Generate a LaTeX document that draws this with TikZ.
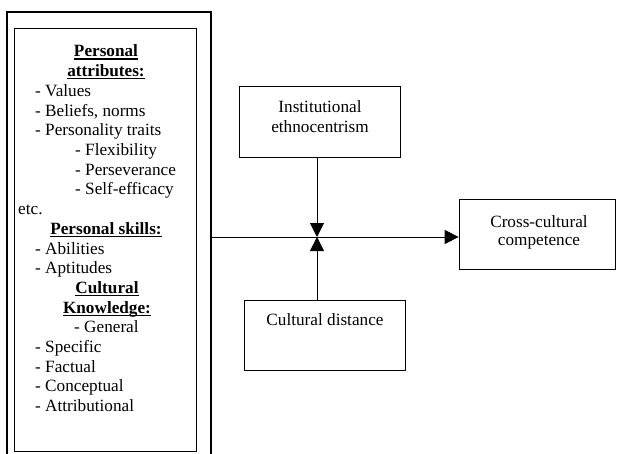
\documentclass[tikz,border=0pt]{standalone}
\usepackage{fontspec}
\setmainfont{Liberation Serif}
\usetikzlibrary{arrows.meta}
\newcommand\hdrul[1]{\setbox0\hbox{\bfseries #1}\leavevmode\rlap{\rule[-2.6pt]{\wd0}{1.2pt}}\box0}
\begin{document}
\begin{tikzpicture}[x=1pt,y=-1pt,
  txt/.style={inner sep=0pt,font=\fontsize{17.2}{19.7}\selectfont},
  boxa/.style={draw,line width=0.8pt,inner sep=0pt},
  arr/.style={line width=0.8pt,-{Triangle[length=14pt,width=14pt]}}]
\useasboundingbox (0,0) rectangle (617,454);
\node[boxa,line width=1.8pt,minimum width=204pt,minimum height=460pt] (outer) at (109,242) {};
\node[boxa,minimum width=182pt,minimum height=423.5pt] (inner) at (105.8,239.8) {};
\foreach \n/\x/\y/\a/\t in {
  1/106/57/base/\hdrul{Personal},
  2/106/76.7/base/\hdrul{attributes:},
  3/35/96.4/base west/- Values,
  4/35/116.1/base west/{- Beliefs, norms},
  5/35/135.8/base west/- Personality traits,
  6/75/155.5/base west/- Flexibility,
  7/75/175.2/base west/- Perseverance,
  8/75/194.9/base west/- Self-efficacy,
  9/18/214.6/base west/etc.,
  10/106/234.3/base/\hdrul{Personal skills:},
  11/35/254/base west/- Abilities,
  12/35/273.7/base west/- Aptitudes,
  13/107/293.4/base/\hdrul{Cultural},
  14/107/313.1/base/\hdrul{Knowledge:},
  15/74/332.8/base west/- General,
  16/35/352.5/base west/- Specific,
  17/35/372.2/base west/- Factual,
  18/35/391.9/base west/- Conceptual,
  19/35/411.6/base west/- Attributional}
  \node[txt,anchor=\a] (l\n) at (\x,\y) {\t};
\node[boxa,minimum width=161.7pt,minimum height=71.7pt] (inst) at (319.9,121.9) {};
\node[txt,anchor=base] (instA) at (320,113) {Institutional};
\node[txt,anchor=base] (instB) at (320,133) {ethnocentrism};
\node[boxa,minimum width=161pt,minimum height=70pt] (cd) at (324.5,335) {};
\node[txt,anchor=base] (cdA) at (325,325) {Cultural distance};
\node[boxa,minimum width=156.5pt,minimum height=70pt] (cross) at (537.3,234) {};
\node[txt,anchor=base] (crA) at (539,227) {Cross-cultural};
\node[txt,anchor=base] (crB) at (539,245.5) {competence};
\coordinate (m) at (317,237);
\draw[arr] (m -| outer.east) -- (m -| cross.west);
\draw[arr] (inst.south -| m) -- (m);
\draw[arr] (cd.north -| m) -- (m);
\end{tikzpicture}
\end{document}
